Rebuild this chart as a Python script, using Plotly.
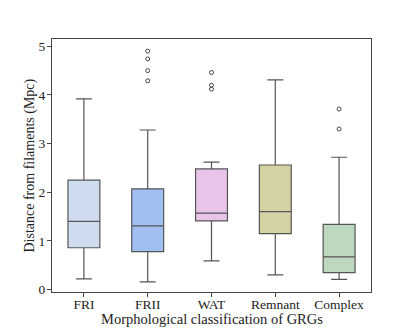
import plotly.graph_objects as go

# box statistics (Mpc)
categories = ["FRI", "FRII", "WAT", "Remnant", "Complex"]
lower = [0.22, 0.16, 0.59, 0.30, 0.21]
q1 = [0.86, 0.78, 1.41, 1.15, 0.35]
median = [1.40, 1.31, 1.57, 1.60, 0.67]
q3 = [2.25, 2.07, 2.48, 2.56, 1.34]
upper = [3.92, 3.28, 2.62, 4.31, 2.72]
fills = ["#cfdbee", "#a2bff2", "#e8c5e8", "#d5d3a4", "#bed8bf"]

outlier_cat = ["FRII", "FRII", "FRII", "FRII", "WAT", "WAT", "WAT", "Complex", "Complex"]
outlier_val = [4.90, 4.74, 4.50, 4.29, 4.46, 4.20, 4.12, 3.71, 3.30]

fig = go.Figure()
for i, cat in enumerate(categories):
    fig.add_trace(go.Box(
        x=[cat], q1=[q1[i]], median=[median[i]], q3=[q3[i]],
        lowerfence=[lower[i]], upperfence=[upper[i]],
        fillcolor=fills[i], line=dict(color="#555555", width=1.2),
        width=0.5, whiskerwidth=0.5, boxpoints=False, showlegend=False,
    ))

fig.add_trace(go.Scatter(
    x=outlier_cat, y=outlier_val, mode="markers", showlegend=False,
    marker=dict(symbol="circle-open", size=4, color="#444444", line=dict(width=1)),
))

# axis titles as annotations so they sit where the original has them
title_font = dict(family="Liberation Serif", size=14.5, color="#222222")
fig.add_annotation(text="Morphological classification of GRGs", xref="paper", yref="paper",
                   x=0.5, y=-0.107, xanchor="center", yanchor="middle",
                   showarrow=False, font=title_font)
fig.add_annotation(text="Distance from filaments (Mpc)", xref="paper", yref="paper",
                   x=-0.072, y=0.5, xanchor="center", yanchor="middle", textangle=-90,
                   showarrow=False, font=dict(family="Liberation Serif", size=14, color="#222222"))

# the page body adds an 8px offset, so the figure is sized to fit inside the window
fig.update_layout(
    width=404, height=322,
    margin=dict(l=44, r=41, t=31, b=38),
    plot_bgcolor="white", paper_bgcolor="white",
    font=dict(family="Liberation Serif", size=13.5, color="#222222"),
    xaxis=dict(
        categoryorder="array", categoryarray=categories, range=[-0.5, 4.5],
        showline=True, linecolor="#444444", mirror=True, showgrid=False,
        ticks="outside", ticklen=4, tickcolor="#444444", automargin=False,
        ticklabelstandoff=-4,
    ),
    yaxis=dict(
        range=[-0.05, 5.15], tickvals=[0, 1, 2, 3, 4, 5],
        showline=True, linecolor="#444444", mirror=True, showgrid=False, zeroline=False,
        ticks="outside", ticklen=4, tickcolor="#444444", automargin=False,
        ticklabelstandoff=-1,
    ),
)

fig.write_html("out.html")
